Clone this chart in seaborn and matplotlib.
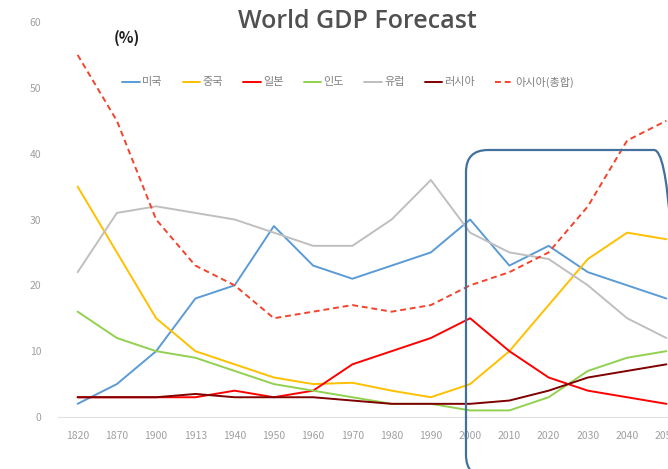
import pandas as pd
import matplotlib.pyplot as plt
import seaborn as sns
from matplotlib.patches import FancyBboxPatch
from matplotlib.transforms import IdentityTransform

years = ['1820', '1870', '1900', '1913', '1940', '1950', '1960', '1970',
         '1980', '1990', '2000', '2010', '2020', '2030', '2040', '2050']
usa = [2, 5, 10, 18, 20, 29, 23, 21, 23, 25, 30, 23, 26, 22, 20, 18]
china = [35, 25, 15, 10, 8, 6, 5, 5.2, 4, 3, 5, 10, 17, 24, 28, 27]
japan = [3, 3, 3, 3, 4, 3, 4, 8, 10, 12, 15, 10, 6, 4, 3, 2]
india = [16, 12, 10, 9, 7, 5, 4, 3, 2, 2, 1, 1, 3, 7, 9, 10]
europe = [22, 31, 32, 31, 30, 28, 26, 26, 30, 36, 28, 25, 24, 20, 15, 12]
russia = [3, 3, 3, 3.5, 3, 3, 3, 2.5, 2, 2, 2, 2.5, 4, 6, 7, 8]
asia = [55, 45, 30, 23, 20, 15, 16, 17, 16, 17, 20, 22, 25, 32, 42, 45]

names = ['미국', '중국', '일본', '인도', '유럽', '러시아', '아시아(총합)']
series = [usa, china, japan, india, europe, russia, asia]
colors = ['#5b9bd5', '#ffc000', '#ff0000', '#92d050', '#bfbfbf', '#7f0000', '#f4432c']

rows = []
for name, vals in zip(names, series):
    for i, v in enumerate(vals):
        rows.append({'pos': i, 'value': v, 'series': name})
df = pd.DataFrame(rows)

sns.set_style('white')
plt.rcParams['font.family'] = ['Noto Sans CJK KR', 'DejaVu Sans']

fig = plt.figure(figsize=(6.68, 4.69), dpi=100)
ax = fig.add_axes([58 / 668, 52 / 469, 628 / 668, 395 / 469])

dashes = {n: '' for n in names}
dashes['아시아(총합)'] = (3, 2)
sns.lineplot(data=df, x='pos', y='value', hue='series', style='series',
             palette=dict(zip(names, colors)), dashes=dashes,
             linewidth=1.4, ax=ax, legend=True)

ax.set_xlim(-0.5, 15.5)
ax.set_ylim(0, 60)
ax.set_xticks(range(len(years)))
ax.set_xticklabels(years)
ax.set_yticks(range(0, 61, 10))
ax.tick_params(axis='both', colors='#a0a0a0', labelsize=7.5, length=0)
ax.tick_params(axis='x', pad=10)
ax.tick_params(axis='y', pad=12)
ax.set_xlabel('')
ax.set_ylabel('')
for s in ['top', 'right', 'left']:
    ax.spines[s].set_visible(False)
ax.spines['bottom'].set_color('#e0e0e0')

handles, labels = ax.get_legend_handles_labels()
ax.legend(handles, labels, ncol=7, loc='center', bbox_to_anchor=(348 / 668, 1 - 82 / 469),
          bbox_transform=fig.transFigure, frameon=False, fontsize=8,
          handlelength=1.6, handletextpad=0.2, columnspacing=1.8, labelcolor='#808080')

fig.text(357 / 668, 1 - 22 / 469, 'World GDP Forecast', ha='center', va='center',
         fontsize=18, fontweight='semibold', color='#505050', family=['Open Sans', 'DejaVu Sans'])
fig.text(127 / 668, 1 - 38 / 469, '(%)', ha='center', va='center',
         fontsize=11, fontweight='bold', color='#202020')

box = FancyBboxPatch((466, -8), 210, 469 - 150 + 8,
                     boxstyle='round,pad=0,rounding_size=22',
                     transform=IdentityTransform(), fill=False,
                     edgecolor='#41719c', linewidth=1.6, clip_on=False)
fig.add_artist(box)

fig.savefig('out.png', dpi=100)
